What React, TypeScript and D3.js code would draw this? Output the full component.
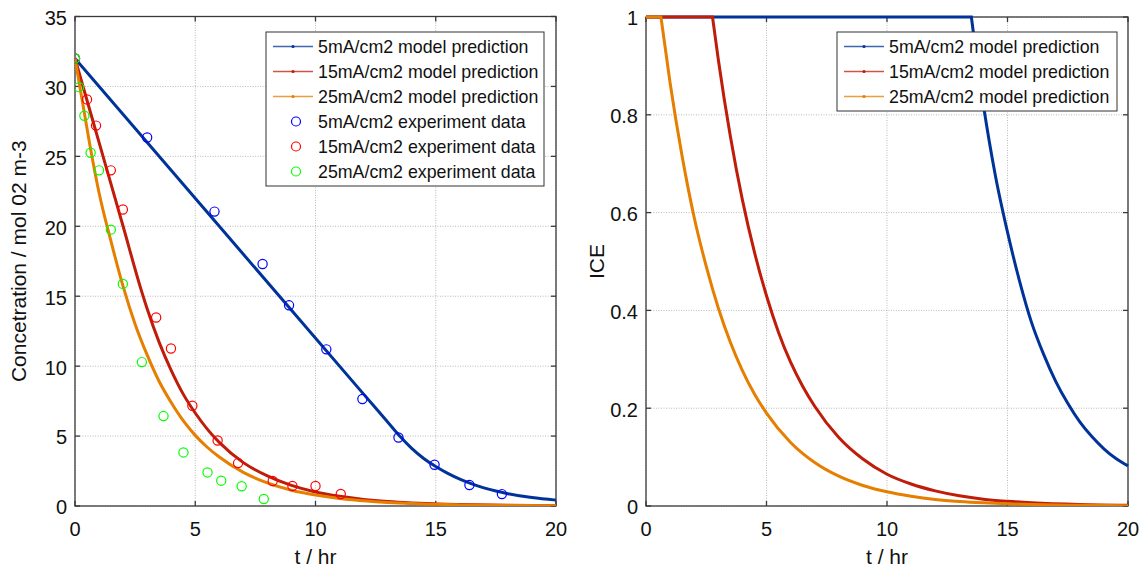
import * as d3 from 'd3';

const FONT = '"Liberation Sans", Arial, sans-serif';

// model curves, left panel: concentration vs time
const blueModelT = [0, 6, 12, 13, 13.5, 14, 14.5, 15, 15.5, 16, 16.5, 17, 17.5, 18, 19, 20];
const blueModelC = [32, 20, 8, 6, 5.0, 4.12, 3.4, 2.82, 2.33, 1.92, 1.58, 1.3, 1.07, 0.88, 0.6, 0.42];
const redModelT = [0, 1, 2, 2.76, 3, 3.5, 4, 4.5, 5, 5.5, 6, 7, 8, 9, 10, 11, 12, 13, 14, 15, 16, 18, 20];
const redModelC = [32, 26, 20, 15.4, 14.1, 11.7, 9.7, 8.0, 6.65, 5.5, 4.55, 3.1, 2.15, 1.47, 1.0, 0.69, 0.47, 0.32, 0.22, 0.15, 0.1, 0.047, 0.022];
const orangeModelT = [0, 0.3, 0.62, 1, 1.5, 2, 2.5, 3, 3.5, 4, 4.5, 5, 5.5, 6, 7, 8, 9, 10, 11, 12, 13, 14, 15, 16, 18, 20];
const orangeModelC = [32, 29, 25.8, 22.4, 18.9, 15.7, 13.0, 10.8, 8.9, 7.4, 6.1, 5.05, 4.2, 3.5, 2.4, 1.65, 1.13, 0.78, 0.53, 0.37, 0.25, 0.17, 0.12, 0.08, 0.04, 0.02];

// experiment data, left panel
const blueExpT = [0, 3.0, 5.8, 7.8, 8.9, 10.45, 11.95, 13.45, 14.95, 16.4, 17.75];
const blueExpC = [32, 26.35, 21.05, 17.3, 14.35, 11.2, 7.65, 4.9, 2.95, 1.5, 0.85];
const redExpT = [0, 0.5, 0.875, 1.49, 1.99, 3.375, 3.99, 4.88, 5.93, 6.78, 8.22, 9.04, 10.0, 11.05];
const redExpC = [32, 29.07, 27.2, 24.0, 21.2, 13.48, 11.26, 7.17, 4.68, 3.07, 1.79, 1.43, 1.43, 0.86];
const greenExpT = [0, 0.17, 0.39, 0.65, 1.0, 1.49, 1.99, 2.78, 3.68, 4.51, 5.51, 6.08, 6.93, 7.85];
const greenExpC = [32, 29.95, 27.9, 25.26, 24.0, 19.76, 15.88, 10.29, 6.43, 3.83, 2.4, 1.81, 1.41, 0.5];

// right panel: ICE vs time
const blueIceT = [0, 13.5, 13.75, 14, 14.5, 15, 15.5, 16, 16.5, 17, 17.5, 18, 18.5, 19, 19.5, 20];
const blueIce = [1, 1, 0.905, 0.82, 0.675, 0.56, 0.46, 0.375, 0.31, 0.255, 0.21, 0.172, 0.142, 0.117, 0.097, 0.082];
const redIceT = [0, 2.76, 3, 3.5, 4, 4.5, 5, 5.5, 6, 6.5, 7, 8, 9, 10, 11, 12, 13, 14, 15, 16, 18, 20];
const redIce = [1, 1, 0.913, 0.756, 0.626, 0.519, 0.43, 0.355, 0.294, 0.245, 0.204, 0.14, 0.096, 0.065, 0.045, 0.031, 0.021, 0.014, 0.0097, 0.0066, 0.003, 0.0014];
const orangeIceT = [0, 0.62, 1, 1.5, 2, 2.5, 3, 3.5, 4, 4.5, 5, 6, 7, 8, 9, 10, 11, 12, 13, 14, 15, 16, 18, 20];
const orangeIce = [1, 1, 0.865, 0.715, 0.59, 0.49, 0.405, 0.335, 0.277, 0.229, 0.19, 0.13, 0.089, 0.061, 0.042, 0.029, 0.02, 0.0135, 0.0093, 0.0064, 0.0044, 0.003, 0.0014, 0.0007];

const xTicks = [0, 5, 10, 15, 20];
const concTicks = [0, 5, 10, 15, 20, 25, 30, 35];
const iceTicks = [0, 0.2, 0.4, 0.6, 0.8, 1];

const modelLabels = ['5mA/cm2 model prediction', '15mA/cm2 model prediction', '25mA/cm2 model prediction'];
const expLabels = ['5mA/cm2 experiment data', '15mA/cm2 experiment data', '25mA/cm2 experiment data'];
const modelColors = ['#003399', '#bf1c0a', '#e67e00'];
const expColors = ['#0000ff', '#ff0000', '#00ff00'];

const zip = (xs: number[], ys: number[]) => xs.map((v, i) => [v, ys[i]] as [number, number]);

type Frame = {
  id: string;
  x: d3.ScaleLinear<number, number>;
  y: d3.ScaleLinear<number, number>;
  yTicks: number[];
  yLabel: string;
  yLabelX: number;
  children?: any;
};

function Panel({ id, x, y, yTicks, yLabel, yLabelX, children }: Frame) {
  const [x0, x1] = x.range();
  const [y0, y1] = y.range();
  return (
    <g>
      <defs>
        <clipPath id={id}>
          <rect x={x0} y={y1 - 3} width={x1 - x0 + 3} height={y0 - y1 + 3} />
        </clipPath>
      </defs>
      {xTicks.map((t) => (
        <line key={'gx' + t} x1={x(t)} x2={x(t)} y1={y0} y2={y1} stroke="#a8a8a8" strokeWidth={0.8} strokeDasharray="1 1.5" />
      ))}
      {yTicks.map((t) => (
        <line key={'gy' + t} x1={x0} x2={x1} y1={y(t)} y2={y(t)} stroke="#a8a8a8" strokeWidth={0.8} strokeDasharray="1 1.5" />
      ))}
      <rect x={x0} y={y1} width={x1 - x0} height={y0 - y1} fill="none" stroke="#3a3a3a" strokeWidth={1.3} />
      {xTicks.map((t) => (
        <g key={'tx' + t}>
          <line x1={x(t)} x2={x(t)} y1={y0} y2={y0 - 5} stroke="#3a3a3a" strokeWidth={1.3} />
          <line x1={x(t)} x2={x(t)} y1={y1} y2={y1 + 5} stroke="#3a3a3a" strokeWidth={1.3} />
          <text x={x(t)} y={536} textAnchor="middle" fontSize={20} fill="#111">{t}</text>
        </g>
      ))}
      {yTicks.map((t) => (
        <g key={'ty' + t}>
          <line x1={x0} x2={x0 + 5} y1={y(t)} y2={y(t)} stroke="#3a3a3a" strokeWidth={1.3} />
          <line x1={x1} x2={x1 - 5} y1={y(t)} y2={y(t)} stroke="#3a3a3a" strokeWidth={1.3} />
          <text x={x0 - 8} y={y(t)} dy="0.42em" textAnchor="end" fontSize={20} fill="#111">{t}</text>
        </g>
      ))}
      <text x={(x0 + x1) / 2} y={564} textAnchor="middle" fontSize={21} fill="#111">t / hr</text>
      <text transform={`translate(${yLabelX},${(y0 + y1) / 2}) rotate(-90)`} textAnchor="middle" fontSize={21} fill="#111">
        {yLabel}
      </text>
      <g clipPath={`url(#${id})`}>{children}</g>
    </g>
  );
}

function Legend({ x, y, w, rows }: { x: number; y: number; w: number; rows: { label: string; color: string; kind: 'line' | 'circle' }[] }) {
  const rowH = 25;
  return (
    <g>
      <rect x={x} y={y} width={w} height={rows.length * rowH + 4} fill="#fff" stroke="#333" strokeWidth={1} />
      {rows.map((r, i) => {
        const cy = y + 14.5 + i * rowH;
        return (
          <g key={r.label}>
            {r.kind === 'line' ? (
              <g>
                <line x1={x + 7} x2={x + 47} y1={cy} y2={cy} stroke={r.color} strokeWidth={1.3} opacity={0.75} />
                <circle cx={x + 27} cy={cy} r={1.6} fill={r.color} />
              </g>
            ) : (
              <circle cx={x + 30} cy={cy} r={4.5} fill="none" stroke={r.color} strokeWidth={1.2} />
            )}
            <text x={x + 52} y={cy} dy="0.36em" fontSize={17.8} fill="#111">{r.label}</text>
          </g>
        );
      })}
    </g>
  );
}

export default function App() {
  const xL = d3.scaleLinear().domain([0, 20]).range([75, 556]);
  const yL = d3.scaleLinear().domain([0, 35]).range([506, 16.5]);
  const xR = d3.scaleLinear().domain([0, 20]).range([646, 1128]);
  const yR = d3.scaleLinear().domain([0, 1]).range([506, 17]);

  const smooth = (xs: d3.ScaleLinear<number, number>, ys: d3.ScaleLinear<number, number>) =>
    d3.line<[number, number]>().x((d) => xs(d[0])).y((d) => ys(d[1])).curve(d3.curveMonotoneX);

  const concLine = smooth(xL, yL);
  const iceLine = smooth(xR, yR);
  // ICE curves: flat at 1 then a sharp drop, so the flat part is drawn straight
  const icePath = (pts: [number, number][]) =>
    `M${xR(pts[0][0])},${yR(pts[0][1])}L` + (iceLine(pts.slice(1)) || '').slice(1);

  const models = [zip(blueModelT, blueModelC), zip(redModelT, redModelC), zip(orangeModelT, orangeModelC)];
  const exps = [zip(blueExpT, blueExpC), zip(redExpT, redExpC), zip(greenExpT, greenExpC)];
  const ices = [zip(blueIceT, blueIce), zip(redIceT, redIce), zip(orangeIceT, orangeIce)];

  return (
    <svg width={1142} height={570} style={{ position: 'absolute', left: 0, top: 0, background: '#fff' }} fontFamily={FONT}>
      <rect width={1142} height={570} fill="#fff" />
      <Panel id="clipL" x={xL} y={yL} yTicks={concTicks} yLabel="Concetration / mol 02 m-3" yLabelX={26}>
        {models.map((m, i) => (
          <path key={'m' + i} d={concLine(m) || ''} fill="none" stroke={modelColors[i]} strokeWidth={3} />
        ))}
        {exps.map((pts, i) =>
          pts.map((p, j) => (
            <circle key={'e' + i + '-' + j} cx={xL(p[0])} cy={yL(p[1])} r={4.6} fill="none" stroke={expColors[i]} strokeWidth={1.2} />
          ))
        )}
      </Panel>
      <Legend
        x={266}
        y={32}
        w={278}
        rows={[
          ...modelLabels.map((l, i) => ({ label: l, color: modelColors[i], kind: 'line' as const })),
          ...expLabels.map((l, i) => ({ label: l, color: expColors[i], kind: 'circle' as const })),
        ]}
      />
      <Panel id="clipR" x={xR} y={yR} yTicks={iceTicks} yLabel="ICE" yLabelX={604}>
        {ices.map((pts, i) => (
          <path key={'i' + i} d={icePath(pts)} fill="none" stroke={modelColors[i]} strokeWidth={3} />
        ))}
      </Panel>
      <Legend
        x={837}
        y={32}
        w={280}
        rows={modelLabels.map((l, i) => ({ label: l, color: modelColors[i], kind: 'line' as const }))}
      />
    </svg>
  );
}
